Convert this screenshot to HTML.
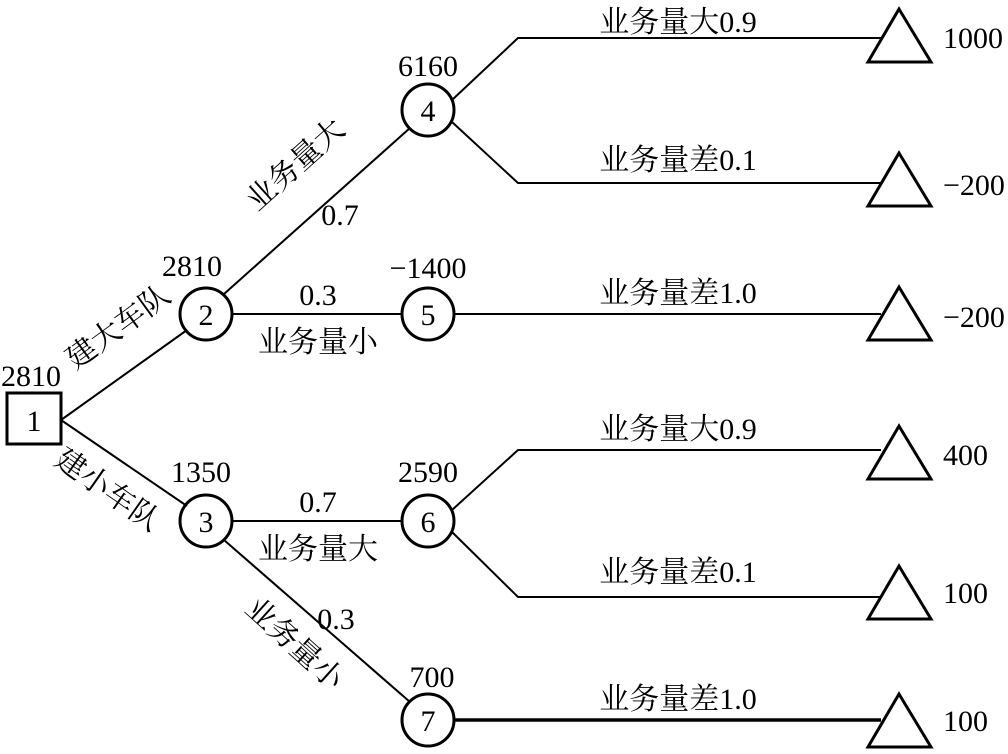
<!DOCTYPE html>
<html><head><meta charset="utf-8"><style>
html,body{margin:0;padding:0;background:#fff;}
svg text{font-family:"Liberation Serif","Noto Serif CJK SC",serif;font-size:30px;fill:#000;}
</style></head><body>
<svg width="1008" height="749" viewBox="0 0 1008 749" xmlns="http://www.w3.org/2000/svg">
<g stroke="#000" stroke-width="2" fill="none">
<rect x="7" y="393" width="54" height="51" stroke-width="3"/>
<line x1="61" y1="420" x2="187" y2="330"/>
<line x1="61" y1="420" x2="187" y2="506"/>
<line x1="224" y1="294" x2="410" y2="128"/>
<line x1="232" y1="314" x2="402" y2="314"/>
<line x1="232" y1="521" x2="402" y2="521"/>
<line x1="224" y1="540" x2="410" y2="702"/>
<polyline points="452,100 518,38 881,38"/>
<polyline points="452,122 518,183 881,183"/>
<line x1="454" y1="314" x2="881" y2="314"/>
<polyline points="452,510 518,450 881,450"/>
<polyline points="452,532 518,597 881,597"/>
<line x1="454" y1="720" x2="881" y2="720" stroke-width="3.5"/>
<g stroke-width="3">
<circle cx="206" cy="314" r="26"/>
<circle cx="206" cy="521" r="26"/>
<circle cx="428" cy="110" r="26"/>
<circle cx="428" cy="314" r="26"/>
<circle cx="428" cy="521" r="26"/>
<circle cx="428" cy="720" r="26"/>
<polygon points="899,9 868,62 931,62"/>
<polygon points="899,153 868,206 931,206"/>
<polygon points="899,287 868,340 931,340"/>
<polygon points="899,426 868,479 931,479"/>
<polygon points="899,566 868,619 931,619"/>
<polygon points="899,694 868,747 931,747"/>
</g>
</g>
<g text-anchor="middle">
<text x="34" y="431">1</text>
<text x="206" y="325">2</text>
<text x="206" y="532">3</text>
<text x="428" y="121">4</text>
<text x="428" y="325">5</text>
<text x="428" y="532">6</text>
<text x="428" y="731">7</text>
<text x="31" y="386">2810</text>
<text x="192" y="276">2810</text>
<text x="201" y="482">1350</text>
<text x="428" y="76">6160</text>
<text x="428" y="278">−1400</text>
<text x="428" y="482">2590</text>
<text x="432" y="687">700</text>
<text x="318" y="305">0.3</text>
<text x="318" y="512">0.7</text>
<text x="340" y="225">0.7</text>
<text x="336" y="629">0.3</text>
<text x="318" y="352">业务量小</text>
<text x="318" y="559">业务量大</text>
<text x="678" y="32">业务量大0.9</text>
<text x="678" y="170">业务量差0.1</text>
<text x="678" y="303">业务量差1.0</text>
<text x="678" y="439">业务量大0.9</text>
<text x="678" y="582">业务量差0.1</text>
<text x="678" y="709">业务量差1.0</text>
<text transform="translate(124,335) rotate(-36)">建大车队</text>
<text transform="translate(102,498) rotate(35)">建小车队</text>
<text transform="translate(302,172) rotate(-42)">业务量大</text>
<text transform="translate(288,651) rotate(42)">业务量小</text>
</g>
<g>
<text x="943" y="48">1000</text>
<text x="943" y="195">−200</text>
<text x="943" y="327">−200</text>
<text x="943" y="465">400</text>
<text x="943" y="603">100</text>
<text x="943" y="731">100</text>
</g>
</svg>
</body></html>
